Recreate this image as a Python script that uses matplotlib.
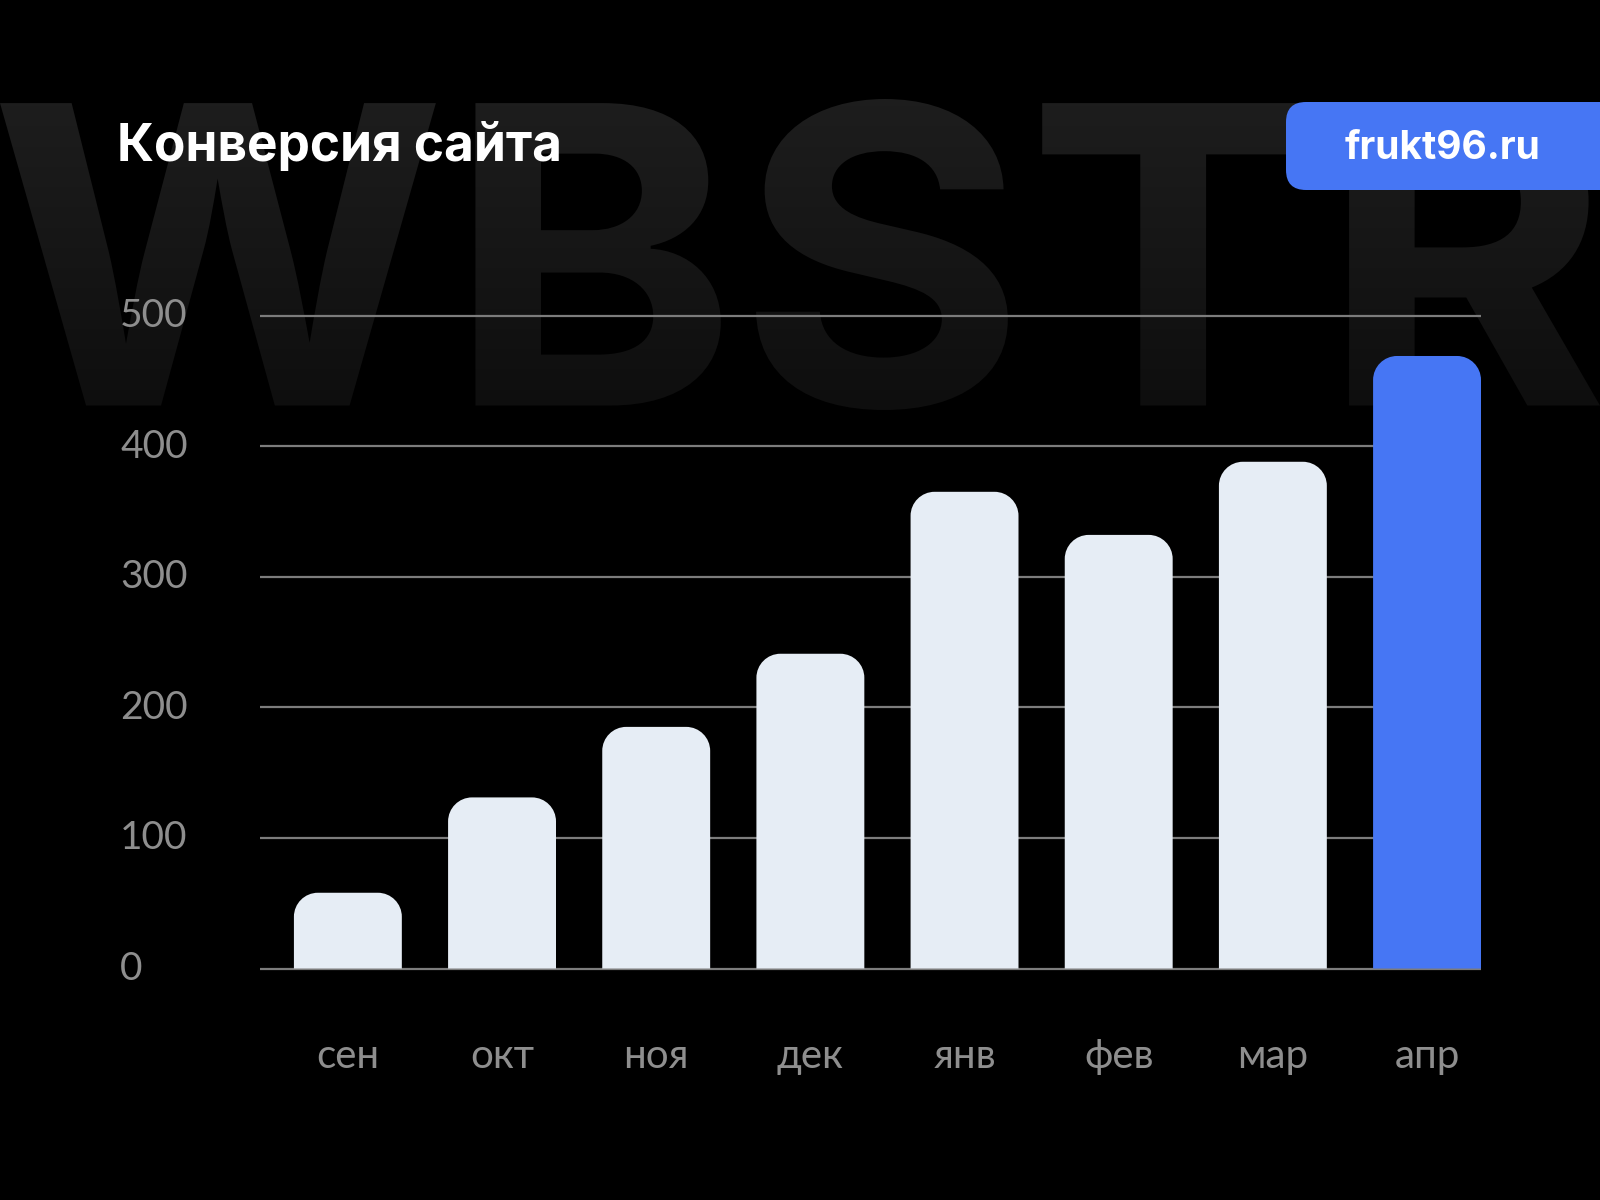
import matplotlib
matplotlib.use("Agg")
import matplotlib.pyplot as plt
from matplotlib.path import Path
from matplotlib.patches import PathPatch, FancyBboxPatch
from matplotlib.textpath import TextPath
from matplotlib.font_manager import FontProperties
from matplotlib.transforms import Affine2D, blended_transform_factory, offset_copy
import numpy as np

# ------------------------------------------------------------------------------
# data
months = ["сен", "окт", "ноя", "дек", "янв", "фев", "мар", "апр"]
values = [58, 131, 185, 241, 365, 332, 388, 469]
highlight = "апр"
yticks = [0, 100, 200, 300, 400, 500]
title = "Конверсия сайта"
badge = "frukt96.ru"
watermark = "WBSTR"

# colours
BG = "#000000"
BAR = "#e6edf5"
BLUE = "#4676f4"
GRID = "#7c7c7c"
LABEL = "#8e8e8e"

W, H = 1600, 1200
fig = plt.figure(figsize=(16, 12), dpi=100)
fig.patch.set_facecolor(BG)

# ------------------------------------------------------------------------------
# background layer in pixel coords (y goes down)
bg = fig.add_axes([0, 0, 1, 1])
bg.set_xlim(0, W)
bg.set_ylim(H, 0)
bg.axis("off")

# big watermark letters with a soft vertical gradient
tp = TextPath((0, 0), watermark, size=100,
              prop=FontProperties(family="Inter", weight="bold"))
ext = tp.get_extents()
wm_top, wm_bot = 99, 410
sx = W / ext.width
sy = (wm_bot - wm_top) / ext.height
tr = Affine2D().translate(-ext.x0, -ext.y0).scale(sx, -sy).translate(0, wm_bot)
wm_patch = PathPatch(tr.transform_path(tp), fc="none", ec="none",
                     transform=bg.transData)
bg.add_patch(wm_patch)
grad = np.linspace(0.115, 0.055, 256)[:, None, None] * np.ones((1, 1, 3))
im = bg.imshow(grad, extent=(0, W, wm_bot, wm_top), aspect="auto",
               interpolation="bilinear", zorder=1)
im.set_clip_path(wm_patch)
bg.set_xlim(0, W)
bg.set_ylim(H, 0)

# title
bg.text(117, 161, title, color="white", fontsize=37, fontweight="bold",
        family="Inter", ha="left", va="baseline", zorder=3)

# site badge, right side runs off the canvas
bg.add_patch(FancyBboxPatch((1286, 102), 400, 88,
                            boxstyle="round,pad=0,rounding_size=20",
                            fc=BLUE, ec="none", zorder=3))
bg.text(1443, 159, badge, color="white", fontsize=28, fontweight="bold",
        family="Inter", ha="center", va="baseline", zorder=4)

# ------------------------------------------------------------------------------
# main chart
y0_px, y500_px = 968.5, 315.5
ppu = (y0_px - y500_px) / 500.0
ylo, yhi = -10, 520
ax_left, ax_right = 260, 1481
ax = fig.add_axes([ax_left / W, (H - (y0_px - ylo * ppu)) / H,
                   (ax_right - ax_left) / W, (yhi - ylo) * ppu / H])
ax.set_facecolor("none")
ax.set_xlim(-0.57, 7.35)
ax.set_ylim(ylo, yhi)
for s in ax.spines.values():
    s.set_visible(False)
ax.set_yticks(yticks)
ax.set_xticks([])
ax.tick_params(left=False, labelleft=False)
ax.grid(axis="y", color=GRID, lw=1.6)
ax.set_axisbelow(True)

x = np.arange(len(months))
colors = [BLUE if m == highlight else BAR for m in months]
bars = ax.bar(x, values, width=0.70, color=colors)

# swap plain rectangles for bars with rounded top corners (radius in pixels)
r_px = 24
xr = (ax.get_xlim()[1] - ax.get_xlim()[0]) / (ax_right - ax_left)
yr = 1.0 / ppu
rx, ry = r_px * xr, r_px * yr
k = 0.5523
for b in bars:
    x0, w, h = b.get_x(), b.get_width(), b.get_height()
    x1 = x0 + w
    verts = [(x0, 0), (x0, h - ry),
             (x0, h - ry + k * ry), (x0 + rx - k * rx, h), (x0 + rx, h),
             (x1 - rx, h),
             (x1 - rx + k * rx, h), (x1, h - ry + k * ry), (x1, h - ry),
             (x1, 0), (x0, 0)]
    codes = [Path.MOVETO, Path.LINETO,
             Path.CURVE4, Path.CURVE4, Path.CURVE4,
             Path.LINETO,
             Path.CURVE4, Path.CURVE4, Path.CURVE4,
             Path.LINETO, Path.CLOSEPOLY]
    ax.add_patch(PathPatch(Path(verts, codes), fc=b.get_facecolor(),
                           ec="none", zorder=2))
    b.set_visible(False)

# y labels: left aligned at a fixed pixel column
ytr = offset_copy(blended_transform_factory(bg.transData, ax.transData),
                  fig=fig, y=-11.5, units="dots")
for v in yticks:
    bg.text(120, v, str(v), transform=ytr, color=LABEL, fontsize=28,
            family="Lato", ha="left", va="baseline")

# month labels under the bars
xtr = blended_transform_factory(ax.transData, bg.transData)
for xi, m in zip(x, months):
    bg.text(xi, 1068, m, transform=xtr, color=LABEL, fontsize=29,
            family="Lato", ha="center", va="baseline")

fig.savefig("out.png", dpi=100, facecolor=BG)
